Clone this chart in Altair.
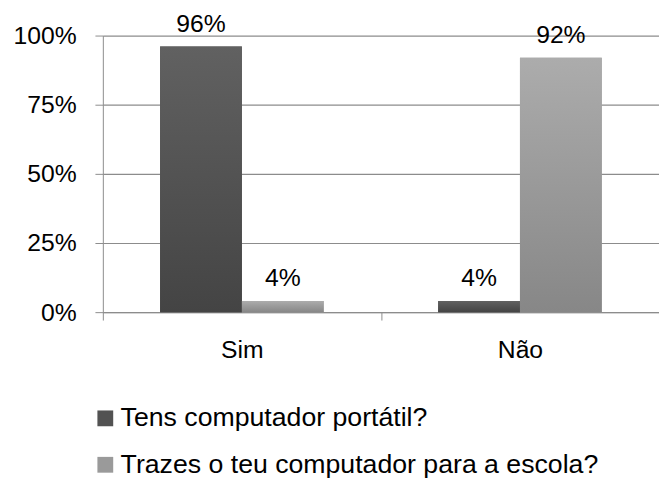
import altair as alt
import pandas as pd

categories = ["Sim", "Não"]
series = ["Tens computador portátil?", "Trazes o teu computador para a escola?"]
values_s1 = [0.96, 0.04]
values_s2 = [0.04, 0.92]

rows = []
for i, c in enumerate(categories):
    rows.append({"cat": c, "series": series[0], "value": values_s1[i]})
    rows.append({"cat": c, "series": series[1], "value": values_s2[i]})
df = pd.DataFrame(rows)

FONT = "Liberation Sans"
grid_col = "#8c8c8c"

grad_dark = {"gradient": "linear", "x1": 0, "y1": 0, "x2": 0, "y2": 1,
             "stops": [{"offset": 0, "color": "#616161"}, {"offset": 1, "color": "#444444"}]}
grad_light = {"gradient": "linear", "x1": 0, "y1": 0, "x2": 0, "y2": 1,
              "stops": [{"offset": 0, "color": "#acacac"}, {"offset": 1, "color": "#878787"}]}

x_enc = alt.X("cat:N", sort=categories, title=None,
              scale=alt.Scale(paddingInner=0, paddingOuter=0),
              axis=alt.Axis(labelAngle=0, labelFontSize=25, labelFont=FONT, labelColor="#000",
                            labelPadding=18, tickBand="extent", tickSize=8, tickColor=grid_col,
                            domainColor=grid_col, domain=True))
xoff = alt.XOffset("series:N", sort=series,
                   scale=alt.Scale(domain=series, paddingInner=0, paddingOuter=0.7))
y_enc = alt.Y("value:Q", title=None,
              scale=alt.Scale(domain=[0, 1], nice=False),
              axis=alt.Axis(values=[0, 0.25, 0.5, 0.75, 1], format=".0%", labelFontSize=25,
                            labelFont=FONT, labelColor="#000", labelPadding=19, tickSize=8,
                            tickColor=grid_col, gridColor=grid_col, domainColor=grid_col,
                            grid=True, gridWidth=1.2))

base = alt.Chart(df)

legend_bars = base.mark_bar().encode(
    x=x_enc, xOffset=xoff, y=y_enc,
    color=alt.Color("series:N", sort=series,
                    scale=alt.Scale(domain=series, range=["#525252", "#9a9a9a"]),
                    legend=alt.Legend(title=None, orient="none", legendX=-11, legendY=374,
                                      direction="vertical", symbolType="square",
                                      symbolSize=256, symbolStrokeWidth=0,
                                      labelFontSize=27, labelFont=FONT, labelColor="#000",
                                      labelOffset=2, rowPadding=19, padding=0,
                                      labelLimit=600))
)

grad_bars = base.mark_bar().encode(
    x=x_enc, xOffset=xoff, y=y_enc,
    fill=alt.condition(alt.datum.series == series[0], alt.value(grad_dark), alt.value(grad_light))
)

labels = base.mark_text(dy=-15, baseline="alphabetic", fontSize=25, font=FONT, color="#000").encode(
    x=x_enc, xOffset=xoff, y=y_enc,
    text=alt.Text("value:Q", format=".0%")
)

chart = alt.layer(legend_bars, grad_bars, labels).properties(
    width=563, height=280,
    autosize=alt.AutoSizeParams(type="none"),
    padding={"left": 96, "top": 25, "right": 0, "bottom": 166},
).configure_view(stroke=None).configure_axis(labelFont=FONT)

chart.save("out.html", embed_options={"renderer": "svg", "actions": False})
